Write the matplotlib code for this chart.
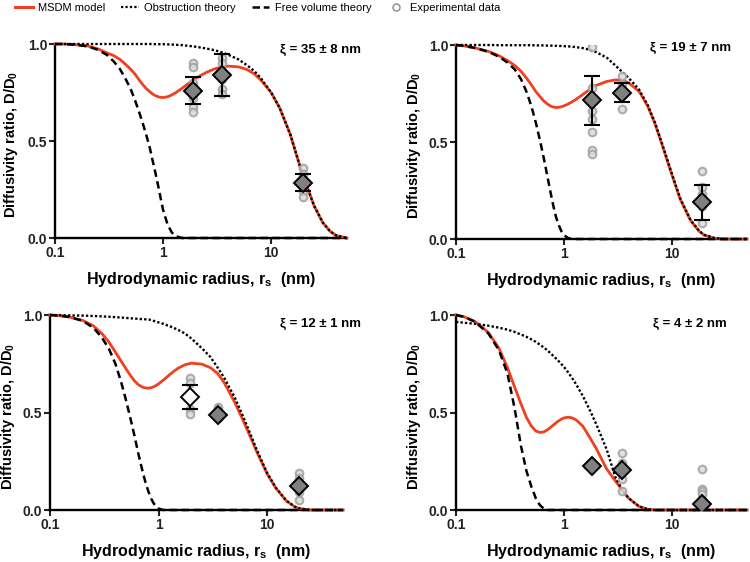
import matplotlib
matplotlib.use("Agg")
import matplotlib.pyplot as plt
from matplotlib.lines import Line2D
from matplotlib.ticker import NullLocator

r_grid = [0.1, 0.12, 0.15, 0.2, 0.25, 0.3, 0.35, 0.4, 0.45, 0.5, 0.55, 0.6, 0.65, 0.7,
          0.75, 0.8, 0.85, 0.9, 0.95, 1.0, 1.1, 1.2, 1.3, 1.5, 1.75, 2, 2.5, 3, 3.5, 4,
          5, 6, 7, 8, 10, 12, 15, 18, 20, 25, 30, 35, 40, 50]

# xi = 35 nm
msdm_35 = [1.0, 1.0, 0.997, 0.99, 0.975, 0.955, 0.94, 0.92, 0.895, 0.87, 0.845, 0.815, 0.79, 0.77,
           0.755, 0.742, 0.734, 0.728, 0.725, 0.724, 0.728, 0.737, 0.748, 0.772, 0.80, 0.823, 0.853,
           0.872, 0.882, 0.886, 0.882, 0.868, 0.845, 0.815, 0.75, 0.67, 0.535, 0.39, 0.31, 0.165,
           0.08, 0.035, 0.013, 0.0]
obst_35 = [1.0] * 16 + [0.999, 0.999, 0.999, 0.999, 0.998, 0.997, 0.996, 0.994, 0.99, 0.986, 0.977,
                        0.968, 0.957, 0.945, 0.92, 0.89, 0.86, 0.825, 0.75, 0.67, 0.535, 0.39, 0.31,
                        0.165, 0.08, 0.035, 0.013, 0.0]
free_35 = [1.0, 1.0, 0.997, 0.988, 0.97, 0.945, 0.91, 0.87, 0.82, 0.77, 0.71, 0.65, 0.59, 0.53,
           0.47, 0.40, 0.335, 0.27, 0.205, 0.145, 0.07, 0.03, 0.01, 0.0] + [0.0] * 20

# xi = 19 nm
msdm_19 = [1.0, 0.995, 0.985, 0.967, 0.945, 0.92, 0.895, 0.865, 0.83, 0.795, 0.76, 0.735, 0.712,
           0.697, 0.686, 0.68, 0.678, 0.679, 0.682, 0.686, 0.696, 0.708, 0.72, 0.745, 0.772, 0.792,
           0.812, 0.82, 0.818, 0.805, 0.76, 0.685, 0.595, 0.50, 0.335, 0.205, 0.095, 0.04, 0.02,
           0.004, 0.0, 0.0, 0.0, 0.0]
obst_19 = [1.0, 1.0, 1.0, 1.0, 0.999, 0.999, 0.999, 0.999, 0.999, 0.999, 0.998, 0.998, 0.998,
           0.997, 0.997, 0.996, 0.996, 0.995, 0.995, 0.994, 0.993, 0.991, 0.989, 0.984, 0.975,
           0.963, 0.935, 0.895, 0.86, 0.83, 0.77, 0.69, 0.60, 0.505, 0.34, 0.21, 0.097, 0.042,
           0.022, 0.005, 0.0, 0.0, 0.0, 0.0]
free_19 = [1.0, 0.995, 0.985, 0.965, 0.94, 0.91, 0.875, 0.825, 0.76, 0.685, 0.60, 0.51, 0.42,
           0.33, 0.245, 0.17, 0.11, 0.07, 0.04, 0.02, 0.005, 0.0] + [0.0] * 22

# xi = 12 nm
msdm_12 = [1.0, 0.997, 0.99, 0.972, 0.945, 0.905, 0.86, 0.81, 0.765, 0.725, 0.69, 0.662, 0.643,
           0.632, 0.626, 0.625, 0.627, 0.632, 0.639, 0.647, 0.665, 0.683, 0.70, 0.726, 0.745,
           0.753, 0.748, 0.73, 0.70, 0.655, 0.555, 0.46, 0.375, 0.30, 0.185, 0.113, 0.047, 0.016,
           0.007, 0.0, 0.0, 0.0, 0.0, 0.0]
obst_12 = [1.0, 0.999, 0.998, 0.997, 0.995, 0.993, 0.991, 0.989, 0.987, 0.985, 0.983, 0.982,
           0.98, 0.979, 0.978, 0.977, 0.975, 0.97, 0.966, 0.962, 0.955, 0.947, 0.94, 0.925, 0.905,
           0.88, 0.83, 0.785, 0.73, 0.68, 0.58, 0.48, 0.39, 0.31, 0.19, 0.115, 0.048, 0.017, 0.008,
           0.0, 0.0, 0.0, 0.0, 0.0]
free_12 = [1.0, 0.997, 0.99, 0.97, 0.935, 0.885, 0.825, 0.75, 0.66, 0.565, 0.47, 0.38, 0.29,
           0.215, 0.15, 0.10, 0.06, 0.035, 0.018, 0.008, 0.0] + [0.0] * 23

# xi = 4 nm
msdm_4 = [1.0, 0.99, 0.967, 0.91, 0.83, 0.73, 0.63, 0.545, 0.475, 0.43, 0.405, 0.398, 0.40,
          0.41, 0.423, 0.436, 0.448, 0.458, 0.466, 0.472, 0.476, 0.472, 0.462, 0.43, 0.37, 0.315,
          0.21, 0.15, 0.10, 0.06, 0.018, 0.004, 0.0] + [0.0] * 11
obst_4 = [0.965, 0.96, 0.955, 0.945, 0.935, 0.925, 0.913, 0.90, 0.888, 0.875, 0.862, 0.848,
          0.834, 0.82, 0.805, 0.79, 0.776, 0.762, 0.748, 0.735, 0.705, 0.675, 0.645, 0.585, 0.51,
          0.44, 0.31, 0.17, 0.10, 0.06, 0.018, 0.004, 0.0] + [0.0] * 11
free_4 = [1.0, 0.99, 0.965, 0.905, 0.82, 0.70, 0.52, 0.33, 0.20, 0.12, 0.06, 0.025, 0.008,
          0.0] + [0.0] * 30

# experimental data: probe radius, mean, error, individual measurements
exp_r_35 = [1.9, 3.5, 19.5]
exp_mean_35 = [0.76, 0.84, 0.285]
exp_err_35 = [0.07, 0.11, 0.043]
exp_pts_35 = [[0.90, 0.88, 0.80, 0.77, 0.72, 0.675, 0.65],
              [0.93, 0.90, 0.86, 0.82, 0.77, 0.74],
              [0.36, 0.33, 0.30, 0.27, 0.24, 0.21]]

exp_r_19 = [1.82, 3.45, 19]
exp_mean_19 = [0.715, 0.755, 0.19]
exp_err_19 = [0.125, 0.05, 0.09]
exp_pts_19 = [[0.99, 0.78, 0.72, 0.66, 0.62, 0.55, 0.46, 0.44],
              [0.84, 0.80, 0.77, 0.74, 0.67],
              [0.35, 0.27, 0.23, 0.17, 0.08]]

exp_r_12 = [1.94, 3.5, 19.7]
exp_mean_12 = [0.58, 0.485, 0.125]
exp_err_12 = [0.06, 0.0, 0.0]
exp_pts_12 = [[0.675, 0.65, 0.60, 0.52, 0.49],
              [0.53, 0.51, 0.47],
              [0.19, 0.165, 0.145, 0.09, 0.05]]

exp_r_4 = [1.82, 3.45, 19]
exp_mean_4 = [0.225, 0.205, 0.03]
exp_err_4 = [0.0, 0.0, 0.0]
exp_pts_4 = [[0.23, 0.22],
             [0.29, 0.24, 0.16, 0.10],
             [0.21, 0.11, 0.095, 0.08, 0.05]]

xi_labels = ['ξ = 35 ± 8 nm', 'ξ = 19 ± 7 nm', 'ξ = 12 ± 1 nm', 'ξ = 4 ± 2 nm']
legend_labels = ['MSDM model', 'Obstruction theory', 'Free volume theory', 'Experimental data']

# styling
RED = '#f0401f'
GRAY = '#808080'

plt.rcParams['font.family'] = ['Liberation Sans', 'DejaVu Sans']
plt.rcParams['mathtext.fontset'] = 'custom'
plt.rcParams['mathtext.rm'] = 'Liberation Sans'
plt.rcParams['mathtext.bf'] = 'Liberation Sans:bold'
plt.rcParams['mathtext.default'] = 'bf'

fig = plt.figure(figsize=(7.5, 5.62), dpi=100)

axes_rects = [[0.0733, 0.5765, 0.389, 0.3452],
              [0.608, 0.5747, 0.388, 0.3452],
              [0.0667, 0.0925, 0.3907, 0.347],
              [0.608, 0.0925, 0.388, 0.347]]
ylabel_x = [-0.12, -0.113, -0.113, -0.113]
xi_pos = [(0.481, 0.911), (0.975, 0.915), (0.481, 0.4235), (0.969, 0.4235)]
diamond_faces = [[GRAY] * 3, [GRAY] * 3, ['white', GRAY, GRAY], [GRAY] * 3]

panels = [
    (msdm_35, obst_35, free_35, exp_r_35, exp_mean_35, exp_err_35, exp_pts_35),
    (msdm_19, obst_19, free_19, exp_r_19, exp_mean_19, exp_err_19, exp_pts_19),
    (msdm_12, obst_12, free_12, exp_r_12, exp_mean_12, exp_err_12, exp_pts_12),
    (msdm_4, obst_4, free_4, exp_r_4, exp_mean_4, exp_err_4, exp_pts_4),
]

for i, (msdm, obst, free, er, emean, eerr, epts) in enumerate(panels):
    ax = fig.add_axes(axes_rects[i])
    ax.set_xscale('log')

    ax.plot(r_grid, msdm, color=RED, lw=2.0, clip_on=False, zorder=3)
    ax.plot(r_grid, obst, color='black', lw=1.7, ls=(0, (1, 0.9)), clip_on=False, zorder=4)
    ax.plot(r_grid, free, color='black', lw=1.8, ls=(0, (3, 1.8)), clip_on=False, zorder=4)

    for j, r in enumerate(er):
        ax.plot([r] * len(epts[j]), epts[j], ls='none', marker='o', ms=5.5,
                mfc='#dcdcdc', mec='#a0a0a0', mew=1.5, alpha=0.85, zorder=5)
        if eerr[j] > 0:
            ax.errorbar(r, emean[j], yerr=eerr[j], fmt='none', ecolor='black',
                        elinewidth=1.5, capsize=6, capthick=1.5, zorder=6)
        ax.plot(r, emean[j], marker='D', ms=9, mfc=diamond_faces[i][j], mec='black',
                mew=1.4, ls='none', zorder=7)

    ax.set_xlim(0.1, 50)
    ax.set_ylim(0, 1.0)
    ax.set_xticks([0.1, 1, 10])
    ax.set_xticklabels(['0.1', '1', '10'])
    ax.xaxis.set_minor_locator(NullLocator())
    ax.set_yticks([0, 0.5, 1.0])
    ax.set_yticklabels(['0.0', '0.5', '1.0'])

    for side in ['top', 'right']:
        ax.spines[side].set_visible(False)
    for side in ['left', 'bottom']:
        ax.spines[side].set_linewidth(1.7)
    ax.tick_params(direction='out', length=4, width=1.5, labelsize=10, pad=1.5,
                   colors='#222222')
    for lab in ax.get_xticklabels() + ax.get_yticklabels():
        lab.set_fontweight('bold')

    ax.set_xlabel('Hydrodynamic radius, r$_\\mathbf{s}$  (nm)', fontsize=11.5, fontweight='bold')
    ax.set_ylabel('Diffusivity ratio, D/D$_\\mathbf{0}$', fontsize=10.5, fontweight='bold')
    ax.xaxis.set_label_coords(0.5, -0.165)
    ax.yaxis.set_label_coords(ylabel_x[i], 0.48)

    fig.text(xi_pos[i][0], xi_pos[i][1], xi_labels[i], ha='right', va='center',
             fontsize=9.5, fontweight='bold')

handles = [Line2D([], [], color=RED, lw=2.2),
           Line2D([], [], color='black', lw=1.6, ls=(0, (1, 1))),
           Line2D([], [], color='black', lw=1.8, ls=(0, (3, 1.5))),
           Line2D([], [], ls='none', marker='o', ms=5, mfc='none', mec='#999999', mew=1.2)]
fig.legend(handles, legend_labels, loc='center left', bbox_to_anchor=(0.02, 0.986), ncol=4,
           frameon=False, prop={'size': 8.0}, handlelength=1.6,
           handletextpad=0.5, columnspacing=1.4, borderaxespad=0, borderpad=0)

fig.savefig('out.png', dpi=100)
